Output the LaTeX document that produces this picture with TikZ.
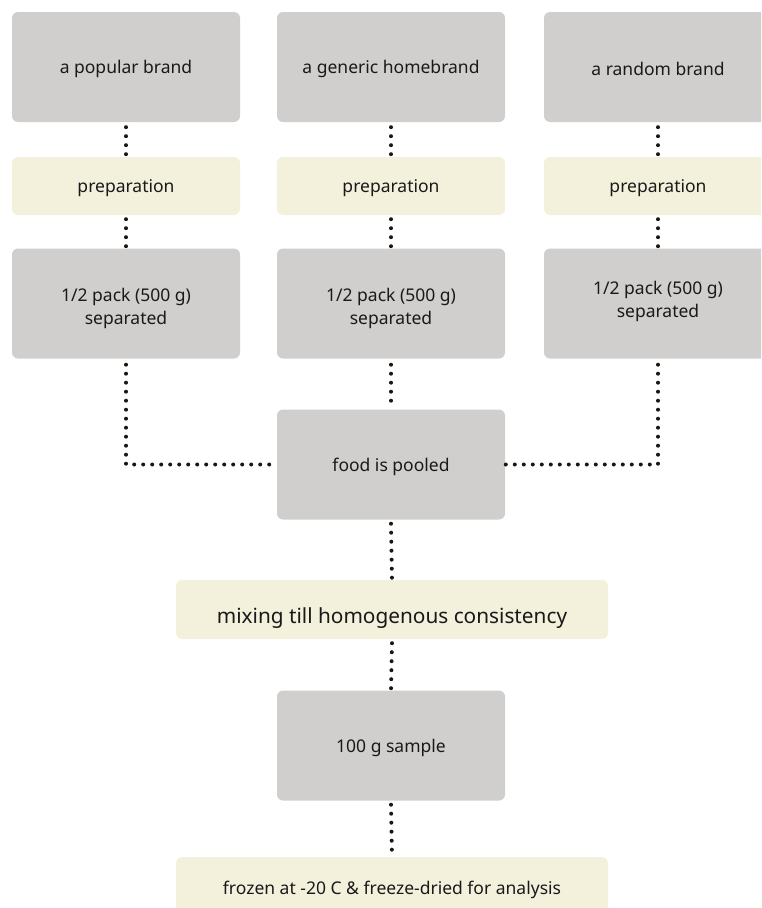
\documentclass[tikz,border=0pt]{standalone}
\usepackage{fontspec}
\setmainfont{Noto Sans}
\definecolor{boxgray}{HTML}{D0CFCE}
\definecolor{boxbeige}{HTML}{F3F0DC}
\definecolor{dotcol}{HTML}{1C1612}
\newcommand{\shiftdn}[2]{\raisebox{-#1}[\height][\depth]{#2}}
\newcommand{\twolines}[2]{\begin{tabular}{@{}c@{}}#1\\#2\end{tabular}}
\begin{document}
\begin{tikzpicture}[x=1pt,y=-1pt,
  graybox/.style={fill=boxgray,rounded corners=6pt,minimum width=228pt,minimum height=110pt,inner sep=0pt,align=center,font=\fontsize{17.5}{23}\selectfont,text=black!90},
  beigebox/.style={fill=boxbeige,rounded corners=6pt,minimum width=228pt,minimum height=58pt,inner sep=0pt,align=center,font=\fontsize{17.5}{23}\selectfont,text=black!90},
  widebox/.style={fill=boxbeige,rounded corners=6pt,minimum width=432pt,minimum height=59pt,inner sep=0pt,align=center,text=black!90},
  link/.style={draw=dotcol,line width=4pt,line cap=round,dash pattern=on 0pt off 9pt}]
\useasboundingbox (0,0) rectangle (761,908);
\clip (0,0) rectangle (761,908);
% top row
\node[graybox] (b1) at (126,67) {\shiftdn{2pt}{a popular brand}};
\node[graybox] (b2) at (391,67) {\shiftdn{2pt}{a generic homebrand}};
\node[graybox] (b3) at (658,67) {\shiftdn{2pt}{a random brand}};
% preparation
\node[beigebox] (p1) at (126,186) {\shiftdn{2pt}{preparation}};
\node[beigebox] (p2) at (391,186) {\shiftdn{2pt}{preparation}};
\node[beigebox] (p3) at (658,186) {\shiftdn{2pt}{preparation}};
% half pack
\node[graybox] (h1) at (126,303.5) {\shiftdn{5pt}{\twolines{1/2 pack (500 g)}{separated}}};
\node[graybox] (h2) at (391,303.5) {\shiftdn{5pt}{\twolines{1/2 pack (500 g)}{separated}}};
\node[graybox] (h3) at (658,303.5) {\shiftdn{-2pt}{\twolines{1/2 pack (500 g)}{separated}}};
% pooled
\node[graybox] (pool) at (391,464.5) {\shiftdn{2pt}{food is pooled}};
\node[widebox,font=\fontsize{20.8}{26}\selectfont] (mix) at (392,609.5) {\shiftdn{9pt}{mixing till homogenous consistency}};
\node[graybox] (samp) at (391,745.5) {\shiftdn{2pt}{100 g sample}};
\node[widebox,minimum height=58pt,font=\fontsize{17.5}{23}\selectfont,anchor=north] (froz) at (392,857) {\shiftdn{4pt}{frozen at -20 C \& freeze-dried for analysis}};
% connectors
\draw[link] ([yshift=-5pt]b1.south) -- (p1.north);
\draw[link] ([yshift=-5pt]b2.south) -- (p2.north);
\draw[link] ([yshift=-5pt]b3.south) -- (p3.north);
\draw[link] ([yshift=-4pt]p1.south) -- (h1.north);
\draw[link] ([yshift=-4pt]p2.south) -- (h2.north);
\draw[link] ([yshift=-4pt]p3.south) -- (h3.north);
\draw[link] ([yshift=-6pt]h1.south) |- (pool.west);
\draw[link] ([yshift=-6pt]h3.south) |- (pool.east);
\draw[link] ([yshift=-6pt]h2.south) -- (pool.north);
\draw[link] ([yshift=-4pt]pool.south) -- (mix.north);
\draw[link] ([yshift=-4pt]mix.south) -- (samp.north);
\draw[link] ([yshift=-4pt]samp.south) -- (froz.north);
\end{tikzpicture}
\end{document}
